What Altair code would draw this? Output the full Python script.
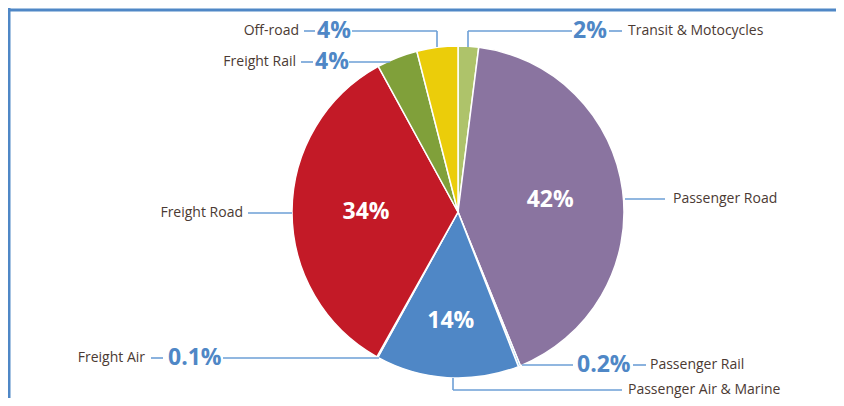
import altair as alt
import pandas as pd

# ---- data ----
categories = ["Transit & Motocycles", "Passenger Road", "Passenger Rail",
              "Passenger Air & Marine", "Freight Air", "Freight Road",
              "Freight Rail", "Off-road"]
values = [2, 42, 0.2, 14, 0.1, 34, 4, 4]
pct_labels = ["2%", "42%", "0.2%", "14%", "0.1%", "34%", "4%", "4%"]
colors = ["#aec36a", "#8a74a0", "#6cb4e0", "#4f87c6", "#e8912a",
          "#c31a27", "#80a03a", "#ebcd0a"]

# ---- layout (pixels in chart space) ----
CX, CY, R = 450, 204, 166
inner_show = [False, True, False, True, False, True, False, False]
inner_radius = [0, 93, 0, 109, 0, 92, 0, 0]

# outer category labels: (text, x, y, align)
name_text = ["Off-road", "Freight Rail", "Freight Road", "Freight Air",
             "Transit & Motocycles", "Passenger Road", "Passenger Rail",
             "Passenger Air & Marine"]
name_x = [291, 288, 235, 137, 620, 665, 642, 620]
name_y = [23, 54, 205, 350, 23, 191, 357, 382]
name_align = ["right", "right", "right", "right", "left", "left", "left", "left"]

# outer percent labels
opct_text = ["4%", "4%", "2%", "0.1%", "0.2%"]
opct_x = [309, 307, 565, 160, 569]
opct_y = [23, 54, 23, 350, 357]

# leader line segments x1, y1, x2, y2
seg_x1 = [296, 344, 429, 293, 341, 460, 460, 601, 617, 240, 143, 215, 514, 625, 445, 445]
seg_y1 = [23, 23, 23, 54, 54, 23, 23, 23, 191, 205, 350, 350, 357, 357, 370, 382]
seg_x2 = [307, 429, 429, 305, 382, 564, 460, 614, 657, 284, 155, 371, 565, 638, 445, 614]
seg_y2 = [23, 23, 39, 54, 54, 23, 39, 23, 191, 205, 350, 350, 357, 357, 382, 382]

BLUE = "#4f87c6"
LINE = "#6d9fd6"
BROWN = "#4b3a33"
FONT = "Open Sans"

pie_df = pd.DataFrame({
    "cat": categories,
    "v": values,
    "idx": list(range(len(categories))),
    "col": colors,
    "lab": [p if s else "" for p, s in zip(pct_labels, inner_show)],
    "lr": inner_radius,
})

names_df = pd.DataFrame({"t": name_text, "x": name_x, "y": name_y, "a": name_align})
opct_df = pd.DataFrame({"t": opct_text, "x": opct_x, "y": opct_y})
seg_df = pd.DataFrame({"x1": seg_x1, "y1": seg_y1, "x2": seg_x2, "y2": seg_y2})

W, H = 828, 390

pie = alt.Chart(pie_df).mark_arc(outerRadius=R, stroke="white", strokeWidth=1.5).encode(
    theta=alt.Theta("v:Q", stack=True),
    order=alt.Order("idx:Q"),
    color=alt.Color("col:N", scale=None),
    x=alt.value(CX), y=alt.value(CY),
)

inner = alt.Chart(pie_df).transform_joinaggregate(
    total="sum(v)"
).transform_window(
    cum="sum(v)", sort=[alt.SortField("idx", order="ascending")],
    frame=[None, 0]
).transform_calculate(
    ang="(datum.cum - datum.v / 2) / datum.total * 2 * PI"
).transform_filter("datum.lab != ''").mark_text(
    font=FONT, fontSize=23, fontWeight="bold", color="white",
    align="center", baseline="middle"
).encode(
    theta=alt.Theta("ang:Q", scale=None, stack=None),
    radius=alt.Radius("lr:Q", scale=None),
    text="lab:N",
    x=alt.value(CX), y=alt.value(CY),
)

segs = alt.Chart(seg_df).mark_rule(color=LINE, strokeWidth=1.6).encode(
    x=alt.X("x1:Q", scale=None), y=alt.Y("y1:Q", scale=None),
    x2="x2:Q", y2="y2:Q",
)

names_r = alt.Chart(names_df).transform_filter("datum.a == 'right'").mark_text(
    font=FONT, fontSize=14, color=BROWN, align="right", baseline="middle"
).encode(x=alt.X("x:Q", scale=None), y=alt.Y("y:Q", scale=None), text="t:N")

names_l = alt.Chart(names_df).transform_filter("datum.a == 'left'").mark_text(
    font=FONT, fontSize=14, color=BROWN, align="left", baseline="middle"
).encode(x=alt.X("x:Q", scale=None), y=alt.Y("y:Q", scale=None), text="t:N")

opct = alt.Chart(opct_df).mark_text(
    font=FONT, fontSize=23, fontWeight="bold", color=BLUE, align="left", baseline="middle"
).encode(x=alt.X("x:Q", scale=None), y=alt.Y("y:Q", scale=None), text="t:N")

frame_df = pd.DataFrame({"x1": [0, 1], "y1": [2, 0], "x2": [W, 1], "y2": [2, H]})
frame = alt.Chart(frame_df).mark_rule(color=BLUE, strokeWidth=3).encode(
    x=alt.X("x1:Q", scale=None), y=alt.Y("y1:Q", scale=None),
    x2="x2:Q", y2="y2:Q",
)

chart = alt.layer(frame, pie, inner, segs, names_r, names_l, opct).properties(
    width=W, height=H, padding=0,
    autosize=alt.AutoSizeParams(type="none"),
).configure_view(stroke=None)

chart.save("out.html", embed_options={"renderer": "svg", "actions": False})
